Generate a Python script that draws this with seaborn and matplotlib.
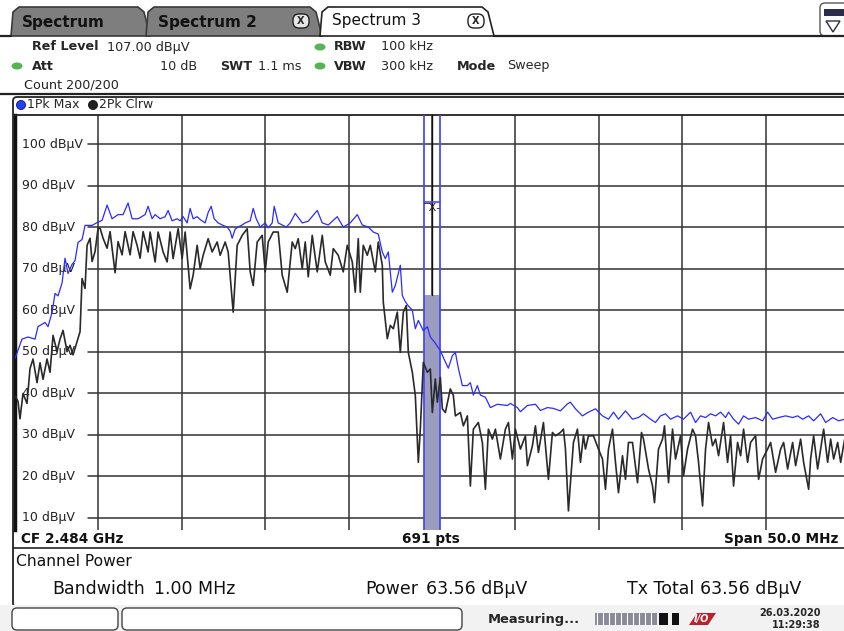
import numpy as np
import pandas as pd
import matplotlib
matplotlib.use("Agg")
import matplotlib.pyplot as plt
from matplotlib.patches import Rectangle, FancyBboxPatch, Polygon, Ellipse
import seaborn as sns

# ---------------- data ----------------
max_freq_mhz = [
    2459.00, 2459.42, 2459.78, 2460.20, 2460.38, 2460.80, 2460.98, 2461.22, 2461.40, 2461.58,
    2461.82, 2462.00, 2462.18, 2462.42, 2462.60, 2462.78, 2463.02, 2463.20, 2463.62, 2463.98,
    2464.22, 2464.52, 2464.82, 2465.18, 2465.48, 2465.78, 2466.02, 2466.38, 2466.80, 2466.98,
    2467.22, 2467.40, 2467.70, 2468.00, 2468.18, 2468.42, 2468.72, 2468.90, 2469.08, 2469.32,
    2469.50, 2469.68, 2469.92, 2470.10, 2470.40, 2470.58, 2470.76, 2470.94, 2471.18, 2471.42,
    2471.72, 2471.90, 2472.02, 2472.20, 2472.38, 2472.62, 2472.80, 2473.10, 2473.28, 2473.46,
    2473.70, 2474.00, 2474.18, 2474.42, 2474.54, 2474.78, 2475.02, 2475.26, 2475.50, 2475.80,
    2476.22, 2476.58, 2477.12, 2477.42, 2477.78, 2478.32, 2478.68, 2479.10, 2479.52, 2479.82,
    2480.18, 2480.48, 2480.78, 2481.02, 2481.20, 2481.38, 2481.62, 2481.80, 2482.10, 2482.22,
    2482.40, 2482.58, 2482.82, 2483.00, 2483.18, 2483.48, 2483.72, 2483.90, 2484.20, 2484.50,
    2484.80, 2484.98, 2485.22, 2485.40, 2485.58, 2485.82, 2486.12, 2486.30, 2486.48, 2486.72,
    2486.90, 2487.20, 2487.50, 2487.92, 2488.52, 2488.70, 2489.12, 2489.30, 2489.72, 2490.20,
    2490.50, 2490.92, 2491.28, 2491.70, 2492.12, 2492.30, 2492.60, 2493.02, 2493.38, 2493.80,
    2494.22, 2494.58, 2494.88, 2495.18, 2495.60, 2496.02, 2496.38, 2496.68, 2497.10, 2497.40,
    2497.70, 2498.00, 2498.30, 2498.72, 2499.08, 2499.50, 2499.80, 2500.10, 2500.40, 2500.70,
    2501.00, 2501.30, 2501.60, 2501.78, 2502.08, 2502.38, 2502.68, 2502.98, 2503.40, 2503.82,
    2504.12, 2504.42, 2504.78, 2505.20, 2505.62, 2505.92, 2506.22, 2506.58, 2506.88, 2507.30,
    2507.60, 2508.02, 2508.38, 2508.74,
]
max_level_dbuv = [
    48.3, 53.0, 53.5, 53.0, 56.0, 57.0, 56.0, 59.4, 64.0, 63.4,
    66.5, 72.5, 68.8, 71.0, 71.9, 76.3, 77.0, 80.4, 80.4, 81.2,
    81.6, 85.3, 82.0, 83.0, 83.0, 85.8, 82.0, 82.0, 83.0, 85.0,
    82.0, 83.0, 82.0, 82.5, 84.0, 81.5, 82.0, 81.5, 82.5, 81.0,
    84.5, 82.0, 82.5, 81.8, 81.0, 83.5, 85.0, 82.0, 81.0, 80.5,
    80.0, 79.0, 77.3, 79.5, 80.0, 80.5, 81.0, 81.5, 84.5, 82.0,
    80.0, 81.0, 79.8, 81.0, 85.0, 81.0, 80.5, 80.0, 81.0, 83.3,
    81.0, 81.4, 84.0, 81.0, 80.5, 82.5, 80.0, 81.0, 83.0, 80.5,
    80.0, 78.8, 78.3, 74.0, 72.4, 74.0, 64.3, 65.9, 70.8, 63.5,
    62.0, 61.0, 60.0, 55.5, 57.5, 55.0, 56.0, 53.5, 52.0, 50.2,
    47.5, 46.0, 49.0, 49.8, 46.0, 41.8, 41.8, 42.5, 39.5, 41.8,
    39.5, 39.0, 36.5, 37.3, 37.0, 37.5, 36.5, 35.5, 37.0, 37.3,
    35.8, 36.5, 36.3, 35.7, 37.4, 37.8, 36.2, 34.5, 35.4, 36.2,
    34.5, 33.7, 35.4, 33.7, 35.7, 33.7, 34.1, 35.0, 33.7, 32.9,
    34.5, 35.0, 33.7, 34.5, 33.7, 35.4, 32.9, 34.5, 34.1, 35.0,
    34.5, 35.4, 34.1, 35.4, 33.7, 32.5, 34.5, 33.7, 34.1, 33.3,
    35.4, 33.7, 34.1, 34.5, 34.1, 34.5, 33.7, 34.5, 33.3, 35.0,
    32.9, 34.1, 33.3, 33.7,
]
clrw_freq_mhz = [
    2459.00, 2459.18, 2459.30, 2459.48, 2459.72, 2459.90, 2460.08, 2460.32, 2460.50, 2460.68,
    2460.92, 2461.10, 2461.28, 2461.52, 2461.70, 2461.88, 2462.12, 2462.30, 2462.48, 2462.72,
    2462.90, 2463.02, 2463.20, 2463.32, 2463.50, 2463.62, 2463.80, 2463.98, 2464.10, 2464.28,
    2464.52, 2464.70, 2465.00, 2465.18, 2465.42, 2465.60, 2465.90, 2466.08, 2466.32, 2466.50,
    2466.68, 2466.98, 2467.10, 2467.40, 2467.58, 2467.88, 2468.12, 2468.30, 2468.48, 2468.78,
    2469.02, 2469.20, 2469.50, 2469.68, 2469.92, 2470.10, 2470.28, 2470.58, 2470.82, 2471.12,
    2471.30, 2471.60, 2471.78, 2472.08, 2472.32, 2472.62, 2472.92, 2473.10, 2473.28, 2473.52,
    2473.82, 2474.00, 2474.18, 2474.48, 2474.78, 2475.02, 2475.32, 2475.62, 2475.80, 2475.98,
    2476.22, 2476.40, 2476.58, 2476.82, 2477.12, 2477.42, 2477.60, 2477.90, 2478.08, 2478.38,
    2478.68, 2478.92, 2479.22, 2479.40, 2479.58, 2479.70, 2479.88, 2480.12, 2480.30, 2480.60,
    2480.78, 2481.02, 2481.08, 2481.32, 2481.50, 2481.68, 2481.92, 2482.10, 2482.28, 2482.46,
    2482.58, 2482.82, 2483.00, 2483.18, 2483.30, 2483.48, 2483.72, 2483.90, 2484.02, 2484.20,
    2484.32, 2484.50, 2484.62, 2484.80, 2485.10, 2485.28, 2485.40, 2485.70, 2485.88, 2486.12,
    2486.30, 2486.48, 2486.78, 2487.02, 2487.20, 2487.38, 2487.62, 2487.80, 2488.10, 2488.40,
    2488.58, 2488.82, 2489.00, 2489.30, 2489.60, 2489.72, 2490.02, 2490.20, 2490.38, 2490.68,
    2490.98, 2491.22, 2491.40, 2491.70, 2491.88, 2492.00, 2492.18, 2492.30, 2492.48, 2492.72,
    2492.90, 2493.08, 2493.20, 2493.38, 2493.68, 2493.98, 2494.22, 2494.40, 2494.58, 2494.82,
    2495.00, 2495.18, 2495.42, 2495.60, 2495.78, 2496.02, 2496.32, 2496.56, 2496.68, 2496.98,
    2497.22, 2497.34, 2497.58, 2497.82, 2497.94, 2498.18, 2498.42, 2498.60, 2498.90, 2499.08,
    2499.32, 2499.62, 2499.80, 2499.98, 2500.22, 2500.40, 2500.58, 2500.82, 2501.00, 2501.18,
    2501.48, 2501.72, 2501.90, 2502.08, 2502.32, 2502.50, 2502.68, 2502.92, 2503.10, 2503.40,
    2503.58, 2503.82, 2504.12, 2504.30, 2504.60, 2504.90, 2505.08, 2505.32, 2505.62, 2505.80,
    2506.10, 2506.28, 2506.58, 2506.70, 2506.88, 2507.12, 2507.30, 2507.48, 2507.72, 2507.90,
    2508.08, 2508.32, 2508.50, 2508.74,
]
clrw_level_dbuv = [
    39.4, 38.0, 33.8, 39.9, 37.5, 45.9, 48.2, 42.5, 47.3, 43.3,
    48.2, 45.0, 53.9, 50.0, 53.0, 55.1, 50.0, 51.5, 49.2, 52.4,
    54.8, 67.6, 65.2, 75.6, 77.3, 71.7, 74.1, 79.7, 79.7, 77.3,
    74.9, 78.9, 69.0, 76.5, 73.3, 78.9, 73.3, 78.9, 75.6, 72.5,
    78.9, 74.0, 78.8, 71.6, 78.8, 74.0, 71.6, 78.8, 72.4, 79.6,
    72.4, 78.8, 65.1, 68.4, 75.6, 70.0, 73.2, 77.2, 74.0, 76.4,
    73.2, 76.4, 74.0, 59.5, 75.6, 78.0, 79.6, 69.2, 65.9, 76.4,
    78.0, 69.2, 76.4, 78.8, 78.8, 68.4, 64.3, 76.4, 74.8, 77.2,
    70.0, 76.4, 68.0, 78.0, 69.2, 78.0, 71.6, 68.4, 74.8, 73.2,
    69.2, 75.6, 71.6, 64.3, 77.2, 64.3, 75.6, 73.2, 75.6, 69.2,
    76.4, 70.8, 61.9, 53.1, 56.3, 55.5, 59.5, 49.8, 59.5, 61.1,
    49.8, 45.0, 39.4, 23.3, 31.3, 47.4, 45.0, 45.8, 35.3, 43.4,
    37.8, 43.8, 36.2, 35.3, 41.0, 39.4, 34.5, 35.3, 32.1, 34.5,
    17.6, 31.3, 32.9, 28.1, 16.8, 31.3, 28.9, 31.3, 24.1, 31.3,
    32.9, 24.1, 31.3, 26.5, 29.7, 22.5, 27.3, 32.1, 25.7, 32.9,
    19.2, 30.5, 29.7, 30.5, 31.3, 26.5, 11.6, 18.4, 28.1, 31.3,
    23.3, 29.7, 26.5, 29.7, 29.7, 26.5, 24.1, 16.8, 26.5, 31.3,
    23.3, 16.0, 24.9, 19.2, 28.1, 28.1, 18.4, 30.5, 28.9, 21.7,
    17.6, 13.6, 26.5, 28.9, 32.1, 18.4, 31.3, 24.1, 29.7, 20.1,
    26.5, 31.3, 29.7, 23.3, 12.8, 26.5, 32.9, 27.3, 28.9, 24.9,
    32.9, 23.3, 29.7, 17.6, 28.1, 24.9, 31.3, 23.3, 28.1, 29.7,
    19.2, 24.1, 26.5, 28.1, 20.9, 26.5, 28.1, 21.7, 28.1, 22.5,
    28.9, 23.3, 16.8, 24.1, 29.7, 21.7, 26.5, 31.3, 23.3, 28.9,
    24.1, 28.1, 23.3, 28.9,
]
y_tick_values = [10, 20, 30, 40, 50, 60, 70, 80, 90, 100]
y_tick_labels = [f"{v} dB\u00b5V" for v in y_tick_values]
center_mhz = 2484.0
span_mhz = 50.0
ref_level = 107.0
channel_bw_mhz = 1.0
channel_power = 63.56
channel_ref_line = 86.0

# ---------------- figure ----------------
sns.set_theme(style="white")
plt.rcParams["font.family"] = ["DejaVu Sans"]
W, H = 844, 631
fig = plt.figure(figsize=(W / 100, H / 100), dpi=100)
fig.patch.set_facecolor("white")

bg = fig.add_axes([0, 0, 1, 1])
bg.set_xlim(0, W)
bg.set_ylim(H, 0)
bg.axis("off")

# tabs
def tab(x0, x1, fill, edge="#3a3a3a"):
    pts = [(x0, 36), (x0 + 2, 12), (x0 + 8, 7), (x1 - 12, 7), (x1 - 6, 12), (x1, 36)]
    bg.add_patch(Polygon(pts, closed=True, facecolor=fill, edgecolor=edge, lw=1.2))

tab(11, 150, "#7e7e7e")
tab(146, 322, "#7e7e7e")
tab(320, 494, "white", edge="#222222")
bg.plot([494, W], [36, 36], color="#222222", lw=1.6)
bg.plot([0, 11], [36, 36], color="#222222", lw=1.6)
bg.text(22, 22, "Spectrum", fontsize=11, fontweight="bold", color="#111111", va="center")
bg.text(158, 22, "Spectrum 2", fontsize=11, fontweight="bold", color="#111111", va="center")
bg.text(332, 21, "Spectrum 3", fontsize=11, color="#111111", va="center")
for cx, fc in [(301, "#e6e6e6"), (476, "white")]:
    bg.add_patch(FancyBboxPatch((cx - 8, 14), 16, 14, boxstyle="round,pad=0,rounding_size=6",
                                facecolor=fc, edgecolor="#222222", lw=1))
    bg.text(cx, 21.5, "X", fontsize=7, fontweight="bold", ha="center", va="center")
# top right icon
bg.add_patch(FancyBboxPatch((820, 3), 30, 33, boxstyle="round,pad=0,rounding_size=5",
                            facecolor="white", edgecolor="#555555", lw=1))
bg.add_patch(Rectangle((824, 9), 20, 7, facecolor="#2c2c4c", edgecolor="none"))
bg.add_patch(Polygon([(826, 21), (840, 21), (833, 32)], closed=True, facecolor="white",
                     edgecolor="#2c2c4c", lw=1))

# header
g = "#56b356"
for (ex, ey) in [(17, 66), (320, 47), (320, 66)]:
    bg.add_patch(Ellipse((ex, ey), 11, 7, facecolor=g, edgecolor="none"))
hs = 9.2
bg.text(32, 47, "Ref Level", fontsize=hs, fontweight="bold", va="center")
bg.text(107, 47, "107.00 dB\u00b5V", fontsize=hs, va="center")
bg.text(32, 66, "Att", fontsize=hs, fontweight="bold", va="center")
bg.text(197, 66, "10 dB", fontsize=hs, va="center", ha="right")
bg.text(220, 66, "SWT", fontsize=hs, fontweight="bold", va="center")
bg.text(258, 66, "1.1 ms", fontsize=hs, va="center")
bg.text(334, 47, "RBW", fontsize=hs, fontweight="bold", va="center")
bg.text(381, 47, "100 kHz", fontsize=hs, va="center")
bg.text(334, 66, "VBW", fontsize=hs, fontweight="bold", va="center")
bg.text(381, 66, "300 kHz", fontsize=hs, va="center")
bg.text(457, 66, "Mode", fontsize=hs, fontweight="bold", va="center")
bg.text(507, 66, "Sweep", fontsize=hs, va="center")
bg.text(24, 85, "Count 200/200", fontsize=hs, va="center", color="#222222")
bg.plot([0, W], [94, 94], color="#222222", lw=1.6)

# panel frame around diagram
bg.add_patch(FancyBboxPatch((13, 97), W, 510, boxstyle="round,pad=0,rounding_size=4",
                            facecolor="white", edgecolor="#222222", lw=1.3))
bg.add_patch(Ellipse((21, 105), 9, 9, facecolor="#2040ff", edgecolor="#101060", lw=0.6))
bg.text(27, 105, "1Pk Max", fontsize=9, va="center")
bg.add_patch(Ellipse((93, 105), 9, 9, facecolor="#202020", edgecolor="#101010", lw=0.6))
bg.text(99, 105, "2Pk Clrw", fontsize=9, va="center")

# info bar below diagram
bg.plot([13, W], [548, 548], color="#222222", lw=1.2)
cond = dict(fontsize=9.8, va="center", fontweight="bold", color="#111111")
bg.text(21, 539, "CF 2.484 GHz", **cond)
bg.text(431, 539, "691 pts", ha="center", **cond)
bg.text(838, 539, "Span 50.0 MHz", ha="right", **cond)

# channel power panel
bg.text(16, 562, "Channel Power", fontsize=11.2, va="center", color="#111111")
cp = dict(fontsize=12.5, va="center", color="#111111")
bg.text(52, 589, "Bandwidth", **cp)
bg.text(154, 589, "1.00 MHz", **cp)
bg.text(365, 589, "Power", **cp)
bg.text(426, 589, "63.56 dB\u00b5V", **cp)
bg.text(627, 589, "Tx Total", **cp)
bg.text(700, 589, "63.56 dB\u00b5V", **cp)

# status bar
bg.add_patch(Rectangle((0, 605), W, 26, facecolor="#f2f2f2", edgecolor="none"))
bg.add_patch(FancyBboxPatch((12, 608), 106, 22, boxstyle="round,pad=0,rounding_size=5",
                            facecolor="white", edgecolor="#444444", lw=1))
bg.add_patch(FancyBboxPatch((122, 608), 340, 22, boxstyle="round,pad=0,rounding_size=5",
                            facecolor="white", edgecolor="#444444", lw=1))
bg.text(488, 619, "Measuring...", fontsize=9.4, fontweight="bold", va="center")
bg.add_patch(Rectangle((595, 613), 62, 12, facecolor="#8a8a9a", edgecolor="none"))
for i in range(10):
    bg.plot([597 + i * 6, 597 + i * 6], [613, 625], color="white", lw=0.8)
bg.add_patch(Rectangle((659, 613), 9, 12, facecolor="#111111", edgecolor="none"))
bg.add_patch(Rectangle((672, 613), 7, 12, facecolor="#111111", edgecolor="none"))
bg.add_patch(Polygon([(689, 625), (697, 613), (716, 613), (708, 625)], closed=True,
                     facecolor="#c0202a", edgecolor="none"))
bg.text(701, 619, "I/O", fontsize=7, fontweight="bold", color="white", ha="center", va="center", style="italic")
bg.text(790, 613, "26.03.2020", fontsize=7, fontweight="bold", ha="center", va="center")
bg.text(796, 625, "11:29:38", fontsize=7, fontweight="bold", ha="center", va="center")

# ---------------- diagram ----------------
x0_px, x1_px, y0_px, y1_px = 15, 849, 115, 530
ax = fig.add_axes([x0_px / W, 1 - y1_px / H, (x1_px - x0_px) / W, (y1_px - y0_px) / H])
ax.set_facecolor("white")
fmin, fmax = center_mhz - span_mhz / 2, center_mhz + span_mhz / 2
ax.set_xlim(fmin, fmax)
ax.set_ylim(ref_level - 100, ref_level)
ax.set_xticks([])
ax.set_yticks([])
for s in ax.spines.values():
    s.set_visible(False)
ax.spines["left"].set_visible(True)
ax.spines["left"].set_linewidth(2.5)
ax.spines["left"].set_color("#111111")
ax.spines["top"].set_visible(True)
ax.spines["top"].set_linewidth(1.3)
ax.spines["top"].set_color("#222222")

grid_c = "#333333"
for k in range(1, 10):
    ax.axvline(fmin + k * span_mhz / 10, color=grid_c, lw=1.1, zorder=1)
label_frac = (88 - x0_px) / (x1_px - x0_px)
for v, lab in zip(y_tick_values, y_tick_labels):
    ax.axhline(v, xmin=label_frac, xmax=1, color=grid_c, lw=1.1, zorder=1)
    ax.text(fmin + 0.42, v, lab, fontsize=9, color="#222222", va="center", ha="left", zorder=2)

# channel power marker
lo, hi = center_mhz - channel_bw_mhz / 2, center_mhz + channel_bw_mhz / 2
ax.add_patch(Rectangle((lo, ref_level - 100), channel_bw_mhz, channel_power - (ref_level - 100),
                       facecolor="#9c9cbe", edgecolor="none", zorder=2))
ax.axvline(lo, color="#4a4aff", lw=1.3, zorder=3)
ax.axvline(hi, color="#4a4aff", lw=1.3, zorder=3)
ax.plot([center_mhz, center_mhz], [channel_power, ref_level], color="#111111", lw=1.0, zorder=3)
ax.plot([lo, hi], [channel_ref_line, channel_ref_line], color="#4a4aff", lw=1.2, zorder=3)
ax.text(center_mhz, channel_ref_line - 1.5, "\u203eX\u2010", fontsize=8, ha="center", va="center",
        color="#222222", zorder=4)

df_max = pd.DataFrame({"freq": max_freq_mhz, "level": max_level_dbuv})
df_clr = pd.DataFrame({"freq": clrw_freq_mhz, "level": clrw_level_dbuv})
sns.lineplot(data=df_clr, x="freq", y="level", ax=ax, color="#2a2a2a", lw=1.2,
             estimator=None, sort=False, zorder=5)
sns.lineplot(data=df_max, x="freq", y="level", ax=ax, color="#2b2bff", lw=0.9,
             estimator=None, sort=False, zorder=6)
ax.set_xlabel("")
ax.set_ylabel("")
ax.set_xlim(fmin, fmax)
ax.set_ylim(ref_level - 100, ref_level)

fig.savefig("out.png", dpi=100)
